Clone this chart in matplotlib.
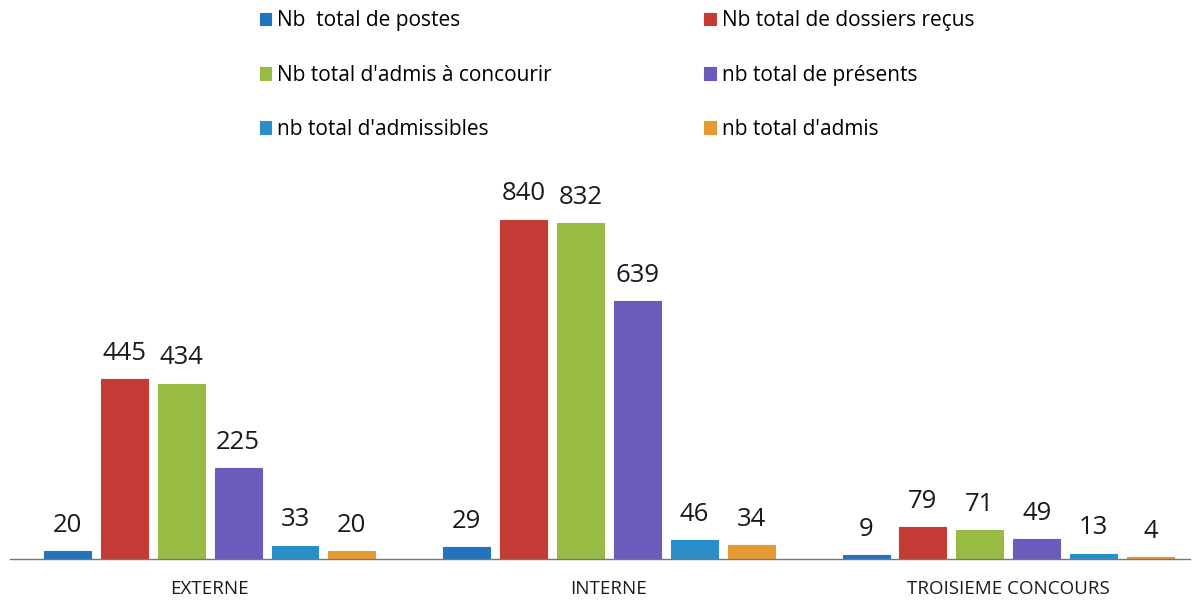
import numpy as np
import matplotlib.pyplot as plt

plt.rcParams['font.family'] = ['Open Sans', 'DejaVu Sans']

# data
categories = ['EXTERNE', 'INTERNE', 'TROISIEME CONCOURS']
series_names = ['Nb  total de postes', 'Nb total de dossiers reçus',
                "Nb total d'admis à concourir", 'nb total de présents',
                "nb total d'admissibles", "nb total d'admis"]
postes = [20, 29, 9]
dossiers = [445, 840, 79]
admis_concourir = [434, 832, 71]
presents = [225, 639, 49]
admissibles = [33, 46, 13]
admis = [20, 34, 4]
series = [postes, dossiers, admis_concourir, presents, admissibles, admis]
colors = ['#2274bf', '#c33b34', '#98bb44', '#6b5cbc', '#2a8fc9', '#e59a32']

fig = plt.figure(figsize=(12.02, 6.04), dpi=100)
ax = fig.add_axes([10 / 1202, 1 - 559 / 604, 1180 / 1202, 404 / 604])

x = np.arange(len(categories))
step = 0.1425
width = 0.1175
for i, (vals, c, name) in enumerate(zip(series, colors, series_names)):
    pos = x + (i - 2.5) * step
    bars = ax.bar(pos, vals, width, color=c, edgecolor=c, linewidth=0.8, label=name)
    for b, v in zip(bars, vals):
        ax.text(b.get_x() + b.get_width() / 2, v + 33, str(v),
                ha='center', va='bottom', fontsize=18.5, color='#1a1a1a')

ax.set_xlim(-0.5, 2.455)
ax.set_ylim(0, 1000)
ax.set_yticks([])
ax.set_xticks(x)
ax.set_xticklabels(categories, fontsize=13.5, color='#1a1a1a')
ax.tick_params(axis='x', length=0, pad=15)
for s in ['top', 'right', 'left']:
    ax.spines[s].set_visible(False)
ax.spines['bottom'].set_color('#777777')
ax.spines['bottom'].set_linewidth(1.0)

# legend, two columns, ordered row by row
handles, labels = ax.get_legend_handles_labels()
order = [0, 2, 4, 1, 3, 5]
fig.legend([handles[k] for k in order], [labels[k] for k in order],
           ncol=2, loc='upper left', bbox_to_anchor=(241 / 1202, 1.014),
           frameon=False, fontsize=15, handlelength=0.55, handleheight=0.55,
           handletextpad=0.3, labelspacing=1.6, columnspacing=7.3)

plt.savefig('out.png', dpi=100)
